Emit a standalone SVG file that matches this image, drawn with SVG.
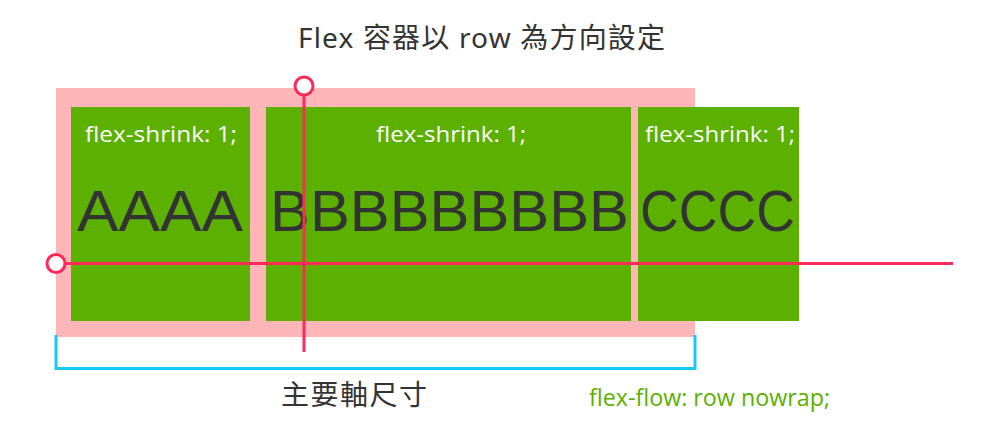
<svg xmlns="http://www.w3.org/2000/svg" width="1000" height="426" viewBox="0 0 1000 426">
<style>
.box{fill:#5bb000}
.lbl{fill:#ffffff;font-family:"Open Sans","Liberation Sans",sans-serif;font-size:21.5px;text-anchor:middle}
.big{fill:#333333;font-family:"Liberation Sans","Noto Sans",sans-serif;font-size:57px}
.axis{stroke:#ff2a5a;stroke-width:3;fill:none}
.dot{stroke:#ff2a5a;stroke-width:3;fill:#ffffff}
.title{fill:#333333;font-family:"Noto Sans","Noto Sans CJK TC",sans-serif;font-size:28px}
</style>
<rect width="1000" height="426" fill="#ffffff"/>
<g id="title"><text class="title" x="298" y="48" textLength="367" lengthAdjust="spacing">Flex 容器以 row 為方向設定</text></g>
<g id="container"><rect x="56" y="88" width="639" height="249" fill="#ffb6b9"/></g>
<g id="itemA">
<rect class="box" x="71" y="107" width="179" height="214"/>
<text class="lbl" x="161" y="142" textLength="152" lengthAdjust="spacingAndGlyphs">flex-shrink: 1;</text>
<text class="big" x="77" y="231" textLength="166" lengthAdjust="spacingAndGlyphs">AAAA</text>
</g>
<g id="itemB">
<rect class="box" x="266" y="107" width="365" height="214"/>
<text class="lbl" x="451" y="142" textLength="150" lengthAdjust="spacingAndGlyphs">flex-shrink: 1;</text>
<text class="big" x="270" y="231" textLength="359" lengthAdjust="spacingAndGlyphs">BBBBBBBBB</text>
</g>
<g id="itemC">
<rect class="box" x="638" y="107" width="161" height="214"/>
<text class="lbl" x="720" y="142" textLength="150" lengthAdjust="spacingAndGlyphs">flex-shrink: 1;</text>
<text class="big" x="640" y="231" textLength="155" lengthAdjust="spacingAndGlyphs">CCCC</text>
</g>
<g id="connectors">
<line class="axis" x1="56" y1="263.5" x2="953" y2="263.5"/>
<line class="axis" x1="304" y1="86" x2="304" y2="352"/>
<circle class="dot" cx="56" cy="263.5" r="9"/>
<circle class="dot" cx="304" cy="86" r="9"/>
<polyline points="56,335 56,368.5 695,368.5 695,335" fill="none" stroke="#17c9f7" stroke-width="3"/>
</g>
<g id="mainsize"><text x="281" y="405" fill="#333333" font-family="'Noto Sans CJK TC','Noto Sans',sans-serif" font-size="28" textLength="146" lengthAdjust="spacing">主要軸尺寸</text></g>
<g id="flowlabel"><text x="589" y="406" fill="#5bb000" font-family="'Open Sans','Liberation Sans',sans-serif" font-size="23" textLength="241" lengthAdjust="spacingAndGlyphs">flex-flow: row nowrap;</text></g>
</svg>
